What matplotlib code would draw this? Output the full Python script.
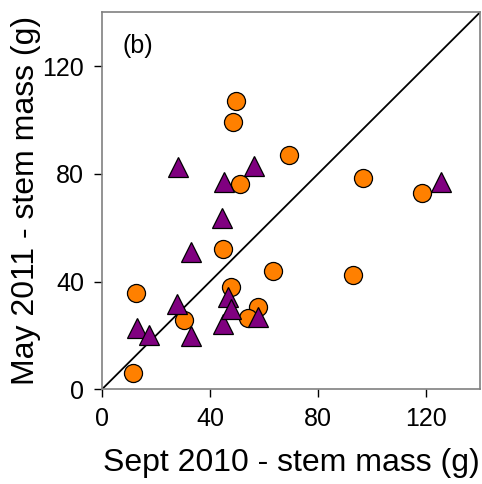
import matplotlib
matplotlib.use('Agg')
import matplotlib.pyplot as plt

plt.rcParams['font.family'] = ['Liberation Sans', 'DejaVu Sans']

# circles (orange)
circle_sept = [49.6, 48.5, 69.3, 96.7, 51.1, 118.5, 44.8, 12.6, 63.3, 93.0, 47.8, 57.8, 54.1, 30.4, 11.5]
circle_may = [106.9, 99.3, 87.1, 78.5, 76.3, 73.0, 52.2, 35.8, 44.0, 42.5, 38.0, 30.6, 26.5, 25.8, 6.0]

# triangles (purple)
tri_sept = [28.0, 45.2, 56.3, 125.4, 44.3, 33.1, 27.7, 12.8, 17.4, 33.0, 44.7, 46.8, 47.8, 57.7]
tri_may = [82.5, 76.8, 83.0, 76.8, 63.6, 50.9, 31.8, 22.8, 20.1, 19.8, 24.3, 34.2, 29.7, 26.8]

ticks = [0, 40, 80, 120]

fig = plt.figure(figsize=(4.82, 4.84), dpi=100)
ax = fig.add_axes([0.2116, 0.1957, 0.7843, 0.7789])

ax.plot([0, 140], [0, 140], color='black', lw=1.3, zorder=1)
ax.plot(circle_sept, circle_may, 'o', ms=13, mfc='#ff8000', mec='black', mew=0.9, zorder=2)
ax.plot(tri_sept, tri_may, '^', ms=14, mfc='#800080', mec='black', mew=0.9, zorder=3)

ax.set_xlim(0, 140)
ax.set_ylim(0, 140)
ax.set_xticks(ticks)
ax.set_yticks(ticks)
ax.tick_params(direction='out', length=6, width=1, labelsize=18, pad=7)
for s in ax.spines.values():
    s.set_color('#808080')
    s.set_linewidth(1.2)

ax.set_xlabel('Sept 2010 - stem mass (g)', fontsize=23, labelpad=12)
ax.set_ylabel('May 2011 - stem mass (g)', fontsize=23, labelpad=1)
ax.text(0.055, 0.91, '(b)', transform=ax.transAxes, fontsize=18, va='center')

fig.savefig('out.png', dpi=100)
